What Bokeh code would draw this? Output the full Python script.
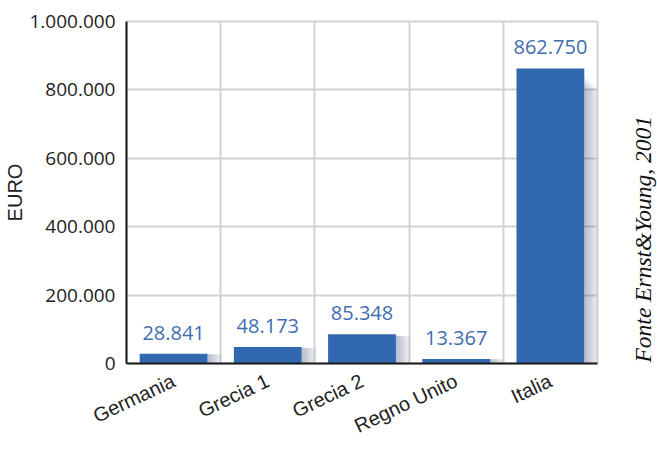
from bokeh.plotting import figure
from bokeh.models import FixedTicker, LabelSet, Label, ColumnDataSource, Range1d
from bokeh.layouts import row
from bokeh.core.properties import value
from bokeh.embed import file_html
from bokeh.resources import INLINE
import math

categories = ["Germania", "Grecia 1", "Grecia 2", "Regno Unito", "Italia"]
values = [28841, 48173, 85348, 13367, 862750]
y_ticks = [0, 200000, 400000, 600000, 800000, 1000000]
y_tick_labels = ["0", "200.000", "400.000", "600.000", "800.000", "1.000.000"]
y_label = "EURO"
source_note = "Fonte Ernst&Young, 2001"


def fmt(v):
    return f"{v:,}".replace(",", ".")


BAR_W = 0.72
xs = [i + 0.5 for i in range(len(categories))]
src = ColumnDataSource(dict(x=xs, top=values, lab=[fmt(v) for v in values]))

p = figure(width=600, height=450, output_backend="svg", toolbar_location=None,
           x_range=Range1d(0, len(categories)), y_range=Range1d(0, 1000000),
           min_border_left=126, min_border_right=3, min_border_top=21,
           min_border_bottom=87)

# soft shadow to the right of the bars (decorative)
for k in range(8):
    w = 0.02 * (k + 1)
    p.vbar(x=[x + BAR_W / 2 + w / 2 for x in xs],
           top=[v * (0.97 - 0.006 * k) for v in values],
           width=w, bottom=0, fill_color="#3d4f7a", fill_alpha=0.05,
           line_color=None)

p.vbar(x="x", top="top", width=BAR_W, bottom=0, source=src,
       fill_color="#3168b0", line_color=None)

labels = LabelSet(x="x", y="top", text="lab", source=src, y_offset=14,
                  text_align="center", text_baseline="alphabetic",
                  text_font=value("Open Sans"), text_font_size=value("20px"),
                  text_color=value("#3e6db0"))
p.add_layout(labels)

# axes
p.xaxis.ticker = FixedTicker(ticks=xs)
p.xaxis.major_label_overrides = {x: c for x, c in zip(xs, categories)}
p.xaxis.major_label_orientation = 0.44
p.xaxis.major_tick_line_color = None
p.xaxis.minor_tick_line_color = None
p.xaxis.axis_line_color = "#1a1a1a"
p.xaxis.axis_line_width = 2
p.xaxis.major_label_text_font = "Liberation Sans"
p.xaxis.major_label_text_font_size = "20px"
p.xaxis.major_label_text_color = "#222222"
p.xaxis.major_label_standoff = 10

p.yaxis.ticker = FixedTicker(ticks=y_ticks)
p.yaxis.major_label_overrides = {t: l for t, l in zip(y_ticks, y_tick_labels)}
p.yaxis.major_tick_line_color = None
p.yaxis.minor_tick_line_color = None
p.yaxis.axis_line_color = "#1a1a1a"
p.yaxis.axis_line_width = 2
p.yaxis.major_label_text_font = "Open Sans"
p.yaxis.major_label_text_font_size = "19px"
p.yaxis.major_label_text_color = "#222222"
p.yaxis.major_label_standoff = 5
p.yaxis.axis_label = y_label
p.yaxis.axis_label_text_font = "Liberation Sans"
p.yaxis.axis_label_text_font_size = "20px"
p.yaxis.axis_label_text_font_style = "normal"
p.yaxis.axis_label_text_color = "#222222"
p.yaxis.axis_label_standoff = 0

# grid
p.xgrid.ticker = FixedTicker(ticks=[1, 2, 3, 4])
p.xgrid.grid_line_color = "#d2d2d2"
p.xgrid.grid_line_width = 2
p.ygrid.grid_line_color = "#d2d2d2"
p.ygrid.grid_line_width = 2
p.outline_line_color = "#d2d2d2"
p.outline_line_width = 2
p.background_fill_color = "white"
p.border_fill_color = "white"

# narrow side panel for the source note (its frame aligns with the chart's)
q = figure(width=57, height=450, output_backend="svg", toolbar_location=None,
           x_range=Range1d(0, 57), y_range=Range1d(0, 1000000),
           min_border=0, min_border_left=0, min_border_right=0,
           min_border_top=0, min_border_bottom=0)
q.axis.visible = False
q.grid.visible = False
q.outline_line_color = None
q.background_fill_color = "white"
q.border_fill_color = "white"
note = Label(x=42, y=0, y_offset=1, text=source_note, angle=math.pi / 2,
             text_align="left", text_baseline="middle",
             text_font="Liberation Serif", text_font_style="italic",
             text_font_size="23.5px", text_color="#111111")
q.add_layout(note)

layout = row(p, q, spacing=0)
open("out.html", "w").write(file_html(layout, INLINE))
